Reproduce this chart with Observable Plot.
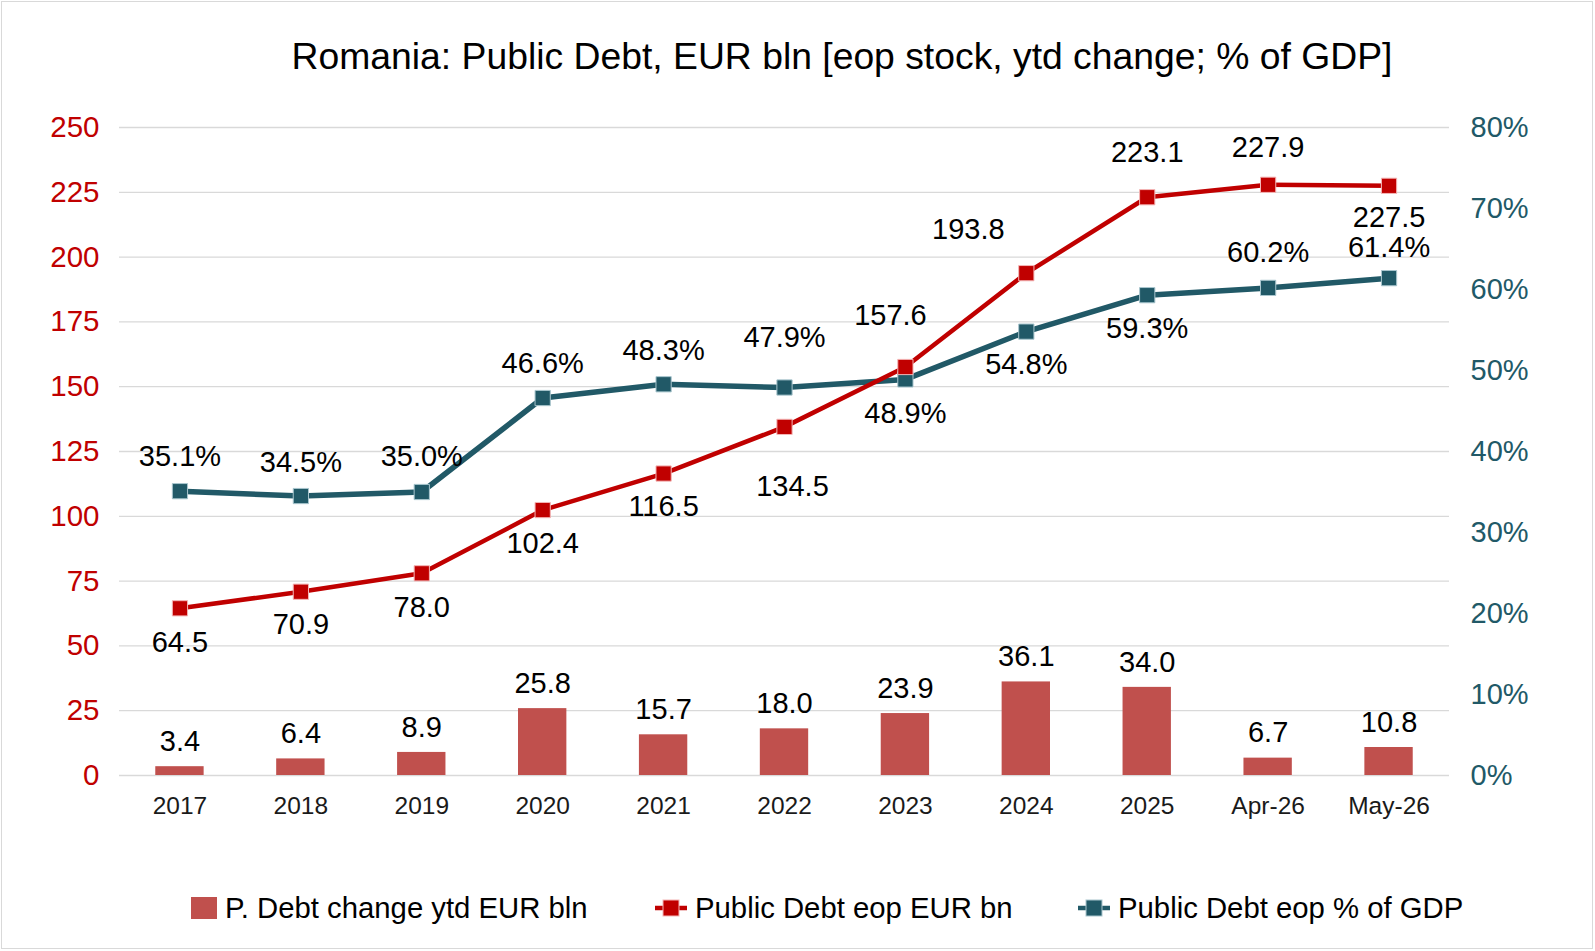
<!DOCTYPE html>
<html>
<head>
<meta charset="utf-8">
<script src="https://cdn.jsdelivr.net/npm/d3@7"></script>
<script src="https://cdn.jsdelivr.net/npm/@observablehq/plot@0.6"></script>
<style>
  html, body { margin: 0; padding: 0; background: #fff; }
  body { width: 1595px; height: 951px; position: relative; overflow: hidden; font-family: "Liberation Sans", Arial, sans-serif; }
  #frame { position: absolute; left: 1px; top: 1px; width: 1592px; height: 948px; box-sizing: border-box; border: 1.5px solid #d9d9d9; }
  #title { position: absolute; left: 0; top: 34px; width: 1684px; text-align: center; font-size: 37.3px; line-height: 44px; color: #000; white-space: nowrap; }
  #chart { position: absolute; left: 0; top: 90px; }
  .leg { position: absolute; top: 890px; height: 36px; display: flex; align-items: center; font-size: 29.3px; color: #000; white-space: nowrap; }
  .leg svg { margin-right: 8px; }
</style>
</head>
<body>
<div id="frame"></div>
<div id="title">Romania: Public Debt, EUR bln [eop stock, ytd change; % of GDP]</div>
<div id="chart"></div>
<div class="leg" style="left:191px"><svg width="26" height="22"><rect x="0" y="0" width="26" height="22" fill="#c0504d"/></svg>P. Debt change ytd EUR bln</div>
<div class="leg" style="left:655px"><svg width="32" height="18"><line x1="0" y1="9" x2="32" y2="9" stroke="#c00000" stroke-width="4.5"/><rect x="8" y="1" width="16" height="16" fill="#c00000" stroke="#f4b6b6" stroke-width="1"/></svg>Public Debt eop EUR bn</div>
<div class="leg" style="left:1078px"><svg width="32" height="18"><line x1="0" y1="9" x2="32" y2="9" stroke="#215967" stroke-width="4.5"/><rect x="8" y="1" width="16" height="16" fill="#215967" stroke="#a9c6ce" stroke-width="1"/></svg>Public Debt eop % of GDP</div>
<script>
// ---- data ----
const categories = ["2017","2018","2019","2020","2021","2022","2023","2024","2025","Apr-26","May-26"];
const debtChange = [3.4, 6.4, 8.9, 25.8, 15.7, 18.0, 23.9, 36.1, 34.0, 6.7, 10.8];
const debtEur = [64.5, 70.9, 78.0, 102.4, 116.5, 134.5, 157.6, 193.8, 223.1, 227.9, 227.5];
const debtPct = [35.1, 34.5, 35.0, 46.6, 48.3, 47.9, 48.9, 54.8, 59.3, 60.2, 61.4];
const leftTicks = [0, 25, 50, 75, 100, 125, 150, 175, 200, 225, 250];
const rightTicks = [0, 10, 20, 30, 40, 50, 60, 70, 80];

// ---- label placement (style only) ----
const eurDx = [0, 0, 0, 0, 0, 8, -15, -58, 0, 0, 0];
const eurDy = [34, 33, 34, 34, 33, 60, -51, -43, -45, -37, 32];
const pctDy = [-34, -33, -35, -34, -34, -50, 34, 33, 34, -35, -30];

const LMAX = 250, RMAX = 80;
const toLeft = p => p * LMAX / RMAX;

const rows = categories.map((c, i) => ({
  cat: c, change: debtChange[i], eur: debtEur[i], pct: debtPct[i], pctL: toLeft(debtPct[i])
}));

const RED = "#c00000", TEAL = "#215967", BAR = "#c0504d";
const fmt1 = d3.format(".1f");
const LABEL_FS = 29;

const eurLabels = rows.map((r, i) => Plot.text([r], {
  x: "cat", y: "eur", text: d => fmt1(d.eur), dx: eurDx[i], dy: eurDy[i],
  fontSize: LABEL_FS, fill: "#000"
}));
const pctLabels = rows.map((r, i) => Plot.text([r], {
  x: "cat", y: "pctL", text: d => fmt1(d.pct) + "%", dy: pctDy[i],
  fontSize: LABEL_FS, fill: "#000"
}));

const chart = Plot.plot({
  width: 1595,
  height: 740,
  marginTop: 37,
  marginBottom: 55,
  marginLeft: 119,
  marginRight: 146,
  style: { fontFamily: "Liberation Sans, Arial, sans-serif", background: "transparent", overflow: "visible" },
  x: { type: "band", domain: categories, paddingInner: 0.6, paddingOuter: 0.3, round: false, label: null },
  y: { domain: [0, LMAX], label: null },
  marks: [
    Plot.gridY(leftTicks, { stroke: "#d9d9d9", strokeOpacity: 1, strokeWidth: 1.3 }),
    Plot.barY(rows, { x: "cat", y: "change", fill: BAR }),
    Plot.line(rows, { x: "cat", y: "pctL", stroke: TEAL, strokeWidth: 5.5 }),
    Plot.line(rows, { x: "cat", y: "eur", stroke: RED, strokeWidth: 4.5 }),
    Plot.dot(rows, { x: "cat", y: "pctL", symbol: "square", r: 8.6, fill: TEAL, stroke: "#a9c6ce", strokeWidth: 1 }),
    Plot.dot(rows, { x: "cat", y: "eur", symbol: "square", r: 8.6, fill: RED, stroke: "#f4b6b6", strokeWidth: 1 }),
    Plot.text(rows, { x: "cat", y: "change", text: d => fmt1(d.change), dy: -25, fontSize: LABEL_FS, fill: "#000" }),
    ...eurLabels,
    ...pctLabels,
    Plot.axisX({ tickSize: 0, tickPadding: 21, fontSize: 24.5, color: "#1a1a1a", label: null }),
    Plot.axisY(leftTicks, { anchor: "left", tickSize: 0, tickPadding: 20, fontSize: 29.5, color: RED, label: null }),
    Plot.axisY(rightTicks.map(toLeft), { anchor: "right", tickSize: 0, tickPadding: 21, fontSize: 29, color: TEAL,
      tickFormat: d => Math.round(d * RMAX / LMAX) + "%", textAnchor: "start", label: null })
  ]
});
document.getElementById("chart").appendChild(chart);
</script>
</body>
</html>
